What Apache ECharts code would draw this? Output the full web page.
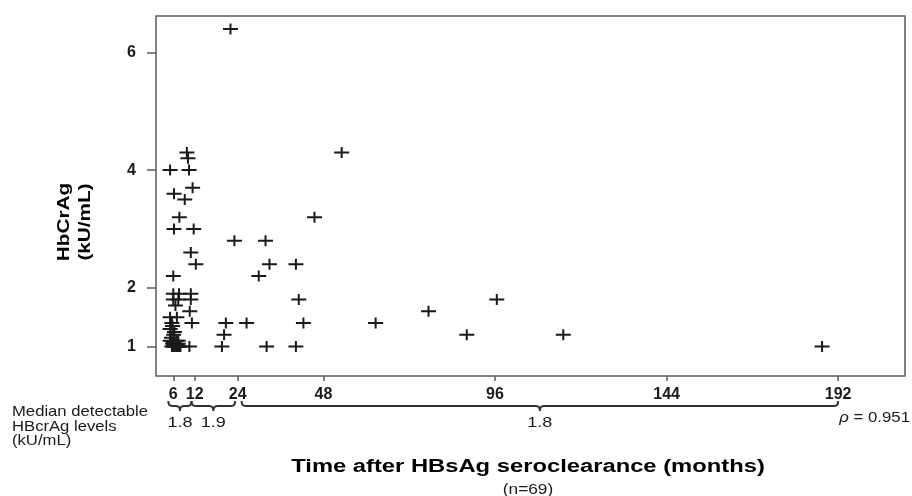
<!DOCTYPE html>
<html>
<head>
<meta charset="utf-8">
<title>HBcrAg after HBsAg seroclearance</title>
<script src="https://cdn.jsdelivr.net/npm/echarts@6/dist/echarts.min.js"></script>
<style>
  html, body { margin: 0; padding: 0; background: #ffffff; }
  #chart { width: 912px; height: 496px; }
</style>
</head>
<body>
<div id="chart"></div>
<script>
// Time after HBsAg seroclearance (months), one entry per patient
const months = [
  22.0, 9.8, 10.1, 5.1, 10.4, 53.1, 6.2, 11.4, 9.2, 7.7,
  45.5, 6.2, 11.7, 23.1, 31.8, 10.9, 12.3, 32.9, 40.3, 29.9,
  6.0, 41.1, 96.5, 77.4, 20.7, 26.5, 42.4, 62.6, 88.1, 115.1,
  20.2, 19.6, 32.1, 40.3, 187.5, 6.0, 7.6, 10.9, 6.0, 7.4,
  10.9, 6.6, 10.6, 5.1, 7.0, 5.6, 11.2, 5.1, 6.1, 5.1,
  7.4, 10.5, 5.6, 6.0, 6.4, 6.8, 7.2, 7.6, 8.0, 6.2,
  7.0, 5.8, 6.6, 7.4, 6.0, 6.9, 5.5, 6.3, 5.8
];
// Detectable HBcrAg level (kU/mL), same order as months
const hbcrag = [
  6.4, 4.3, 4.2, 4.0, 4.0, 4.3, 3.6, 3.7, 3.5, 3.2,
  3.2, 3.0, 3.0, 2.8, 2.8, 2.6, 2.4, 2.4, 2.4, 2.2,
  2.2, 1.8, 1.8, 1.6, 1.4, 1.4, 1.4, 1.4, 1.2, 1.2,
  1.2, 1.0, 1.0, 1.0, 1.0, 1.9, 1.9, 1.9, 1.8, 1.8,
  1.8, 1.7, 1.6, 1.5, 1.5, 1.4, 1.4, 1.3, 1.2, 1.1,
  1.1, 1.0, 1.0, 1.0, 1.0, 1.0, 1.0, 1.0, 1.0, 1.03,
  1.03, 1.05, 1.05, 1.05, 1.08, 1.1, 1.15, 1.25, 1.35
];

const xTicks = [6, 12, 24, 48, 96, 144, 192];
const yTicks = [1, 2, 4, 6];

// Time windows (months) summarised under the axis, with their median levels
const windowRanges = [[4.6, 11.1], [11.1, 23.3], [25.1, 192]];
const windowMedians = ['1.8', '1.9', '1.8'];

const correlationText = '0.951';
const sampleSize = 69;

const FONT = '"Liberation Sans", Arial, sans-serif';
const INK = '#1a1a1a';
const FRAME = '#5a5a5a';

// plus-shaped marker
const plusPath = 'path://M0,4.5H15V6.5H0Z M6.5,0H8.5V11H6.5Z';

const chart = echarts.init(document.getElementById('chart'), null, { renderer: 'canvas' });

chart.setOption({
  animation: false,
  backgroundColor: '#ffffff',
  grid: {
    left: 156, top: 16, right: 7, bottom: 120,
    show: true, borderColor: FRAME, borderWidth: 1.5, backgroundColor: 'transparent'
  },
  xAxis: {
    type: 'value',
    min: 1.16, max: 210.7,
    splitLine: { show: false },
    axisLine: { show: false },
    axisTick: { show: true, customValues: xTicks, length: 5, lineStyle: { color: FRAME, width: 1.5 } },
    axisLabel: {
      customValues: xTicks, margin: 11,
      fontFamily: FONT, fontWeight: 'bold', fontSize: 16, color: INK
    }
  },
  yAxis: {
    type: 'value',
    min: 0.5, max: 6.62,
    splitLine: { show: false },
    axisLine: { show: false },
    axisTick: { show: true, customValues: yTicks, length: 9, lineStyle: { color: FRAME, width: 1.5 } },
    axisLabel: {
      customValues: yTicks, margin: 20,
      fontFamily: FONT, fontWeight: 'bold', fontSize: 16, color: INK
    }
  },
  series: [{
    type: 'scatter',
    silent: true,
    symbol: plusPath,
    symbolSize: [15, 11],
    itemStyle: { color: INK, opacity: 1 },
    data: months.map((m, i) => [m, hbcrag[i]])
  }]
});

// Sample a quadratic Bezier into polyline points
function quad(p0, c, p1, n) {
  const pts = [];
  for (let k = 1; k <= n; k++) {
    const t = k / n, u = 1 - t;
    pts.push([u * u * p0[0] + 2 * u * t * c[0] + t * t * p1[0],
              u * u * p0[1] + 2 * u * t * c[1] + t * t * p1[1]]);
  }
  return pts;
}

// Brace over a pixel span [xa, xb] with a downward nub in the middle
function bracePoints(xa, xb, top, mid, nub) {
  const xc = (xa + xb) / 2, r = 4;
  let pts = [[xa, top]];
  pts = pts.concat(quad([xa, top], [xa, mid], [xa + r, mid], 6));
  pts.push([xc - r, mid]);
  pts = pts.concat(quad([xc - r, mid], [xc, mid], [xc, nub], 6));
  pts = pts.concat(quad([xc, nub], [xc, mid], [xc + r, mid], 6));
  pts.push([xb - r, mid]);
  pts = pts.concat(quad([xb - r, mid], [xb, mid], [xb, top], 6));
  return pts;
}

const braceTop = 401, braceMid = 406, braceNub = 411;
const graphics = [];

windowRanges.forEach((r, i) => {
  const xa = chart.convertToPixel({ xAxisIndex: 0 }, r[0]);
  const xb = chart.convertToPixel({ xAxisIndex: 0 }, r[1]);
  const xc = (xa + xb) / 2;
  graphics.push({
    type: 'polyline', silent: true,
    shape: { points: bracePoints(xa, xb, braceTop, braceMid, braceNub) },
    style: { fill: null, stroke: '#333333', lineWidth: 2 }
  });
  graphics.push({
    type: 'text', silent: true,
    x: xc, y: 423, scaleX: 1.2,
    style: {
      text: windowMedians[i], x: 0, y: 0, align: 'center', verticalAlign: 'middle',
      font: `15px ${FONT}`, fill: INK
    }
  });
});

graphics.push({
  type: 'text', silent: true,
  x: 12, y: 405, scaleX: 1.11,
  style: {
    text: 'Median detectable\nHBcrAg levels\n(kU/mL)', x: 0, y: 0,
    align: 'left', verticalAlign: 'top',
    font: `15px ${FONT}`, lineHeight: 14.5, fill: INK
  }
});

graphics.push({
  type: 'text', silent: true,
  x: 910, y: 418, scaleX: 1.12,
  style: {
    text: '{i|ρ} = ' + correlationText, x: 0, y: 0,
    align: 'right', verticalAlign: 'middle',
    font: `15px ${FONT}`, fill: INK,
    rich: { i: { fontStyle: 'italic', fontSize: 15, fontFamily: FONT, fill: INK } }
  }
});

graphics.push({
  type: 'text', silent: true,
  x: 528, y: 467, scaleX: 1.32,
  style: {
    text: 'Time after HBsAg seroclearance (months)', x: 0, y: 0,
    align: 'center', verticalAlign: 'middle',
    font: `bold 18px ${FONT}`, fill: '#000000'
  }
});

graphics.push({
  type: 'text', silent: true,
  x: 528, y: 490, scaleX: 1.15,
  style: {
    text: `(n=${sampleSize})`, x: 0, y: 0,
    align: 'center', verticalAlign: 'middle',
    font: `15px ${FONT}`, fill: INK
  }
});

graphics.push({
  type: 'text', silent: true,
  x: 75, y: 222, rotation: Math.PI / 2, scaleX: 1.22,
  style: {
    text: 'HbCrAg\n(kU/mL)', x: 0, y: 0,
    align: 'center', verticalAlign: 'middle',
    font: `bold 17px ${FONT}`, lineHeight: 21, fill: '#000000'
  }
});

chart.setOption({ graphic: graphics });
</script>
</body>
</html>
